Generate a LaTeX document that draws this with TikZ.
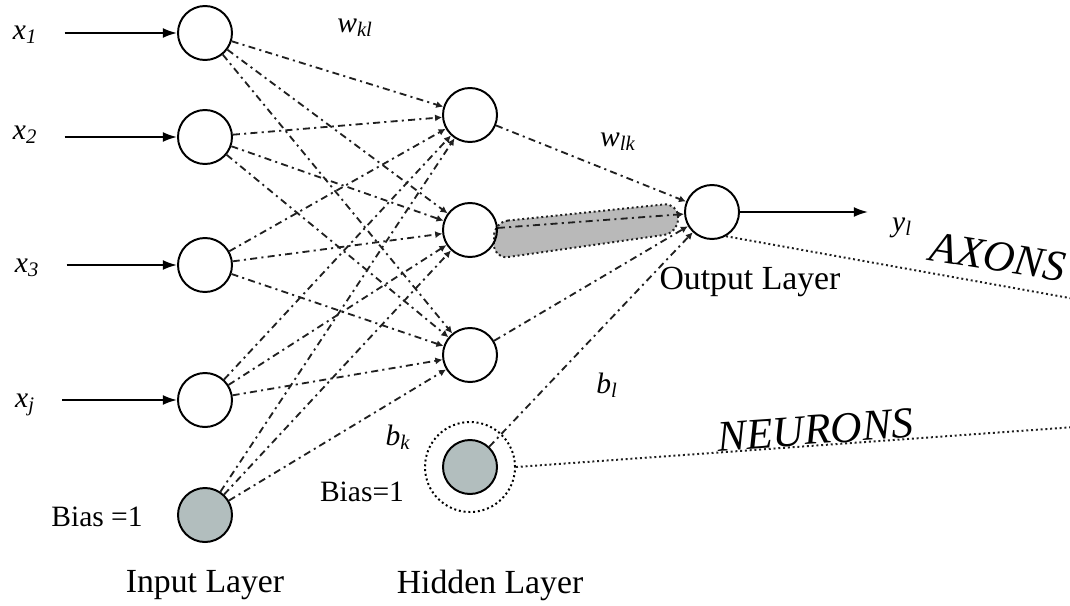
\documentclass[tikz,border=0pt]{standalone}
\usepackage{fontspec}
\setmainfont{Liberation Serif}
\usetikzlibrary{arrows.meta,positioning}
\definecolor{biasgrey}{RGB}{178,190,190}
\newcommand{\ivar}[2]{\textit{#1}\textsubscript{\textit{#2}}}

\begin{document}
\begin{tikzpicture}[x=0.025cm,y=-0.025cm,
	neuron/.style={circle,draw,line width=1.4pt,minimum size=1.35cm,inner sep=0pt},
	biasnode/.style={neuron,fill=biasgrey},
	weight/.style={line width=1.3pt,gray!25!black,dash pattern=on 5pt off 3pt on 1.5pt off 3pt,-{Latex[length=5pt,width=5pt]}},
	inarrow/.style={line width=1.4pt,-{Latex[length=10pt,width=7pt]}},
	dotline/.style={line width=1.4pt,gray!25!black,dotted},
	lbl/.style={font=\fontsize{21}{23}\selectfont},
	layer/.style={font=\fontsize{24}{26}\selectfont},
	big/.style={font=\fontsize{31}{33}\selectfont\itshape}]
		\useasboundingbox (0,0) rectangle (1070,605);
		\clip (0,0) rectangle (1070,605);
		% shaded weight band
		\fill[gray!55,draw=gray!25!black,dotted,line width=1.4pt,rounded corners=10pt]
		(494,222) -- (678,203) -- (678,233) -- (494,259) -- cycle;
		% input layer
		\node[neuron] (in1) at (205,33) {};
		\node[neuron] (in2) at (205,137) {};
		\node[neuron] (in3) at (205,265) {};
		\node[neuron] (in4) at (205,400) {};
		\node[biasnode] (b1) at (205,515) {};
		% hidden layer
		\node[neuron] (h1) at (470,115) {};
		\node[neuron] (h2) at (470,230) {};
		\node[neuron] (h3) at (470,355) {};
		\node[biasnode] (b2) at (470,467) {};
		\node[circle,draw,dotted,line width=1.4pt,minimum size=2.25cm] (ring) at (b2) {};
		% output layer
		\node[neuron] (out) at (712,212) {};
		% inputs
		\node[lbl] (lx1) at (25,35) {\ivar{x}{1}};
		\node[lbl] (lx2) at (25,135) {\ivar{x}{2}};
		\node[lbl] (lx3) at (27,268) {\ivar{x}{3}};
		\node[lbl] (lx4) at (25,405) {\ivar{x}{j}};
		\foreach \k in {1,2,3,4}
		\draw[inarrow,shorten <=16pt] (lx\k.east |- in\k) -- (in\k);
		% weights
		\foreach \i in {in1,in2,in3,in4,b1}
		\foreach \j in {h1,h2,h3}
		\draw[weight] (\i) -- (\j);
		\foreach \j in {h1,h2,h3,b2}
		\draw[weight] (\j) -- (out);
		% output
		\coordinate (yend) at (868,212);
		\draw[inarrow] (out) -- (yend);
		\node[lbl] (ly) at (902,228) {\ivar{y}{l}};
		\node[lbl] (wkl) at (355,28) {\ivar{w}{kl}};
		\node[lbl] (wlk) at (618,142) {\ivar{w}{lk}};
		\node[lbl] (bl) at (607,385) {\ivar{b}{l}};
		\node[lbl] (bk) at (398,437) {\ivar{b}{k}};
		\node[lbl] (bias1) at (97,517) {Bias =1};
		\node[lbl] (bias2) at (362,492) {Bias=1};
		\node[layer] (inl) at (205,585) {Input Layer};
		\node[layer] (hidl) at (490,585) {Hidden Layer};
		\node[layer] (outl) at (750,282) {Output Layer};
		% labels of the parts
		\coordinate (axend) at (1075,299);
		\draw[dotline] (out.-60) -- (axend);
		\node[big,rotate=-9,inner sep=0pt] (axons) at (998,257) {AXONS};
		\coordinate (nend) at (1075,427);
		\draw[dotline] (ring.east) -- (nend);
		\node[big,rotate=4] (neurons) at (815,430) {NEURONS};
	\end{tikzpicture}
\end{document}
